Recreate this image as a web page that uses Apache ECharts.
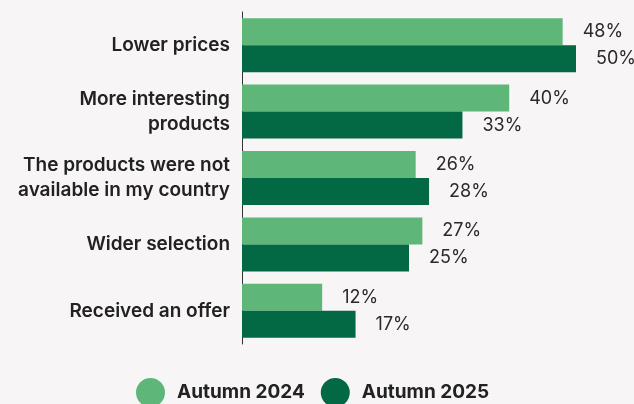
<!DOCTYPE html>
<html><head><meta charset="utf-8">
<script src="https://cdn.jsdelivr.net/npm/echarts@6/dist/echarts.min.js"></script>
<style>html,body{margin:0;padding:0;background:#f7f5f6}#c{width:634px;height:404px}</style>
</head><body><div id="c"></div>
<script>
const categories = ["Lower prices", "More interesting\nproducts", "The products were not\navailable in my country", "Wider selection", "Received an offer"];
const autumn2024 = [48, 40, 26, 27, 12];
const autumn2025 = [50, 33, 28, 25, 17];
const seriesNames = ["Autumn 2024", "Autumn 2025"];

const chart = echarts.init(document.getElementById('c'));
const FONT = 'Inter';
const labelStyle = {show: true, position: 'right', distance: 20, formatter: '{c}%', color: '#2a2a2a', fontSize: 18, fontFamily: FONT};
chart.setOption({
  backgroundColor: '#f7f5f6',
  animation: false,
  grid: {left: 242, top: 12, width: 334, height: 332},
  xAxis: {type: 'value', min: 0, max: 50, show: false},
  yAxis: {type: 'category', data: categories, inverse: true,
    axisLine: {show: true, lineStyle: {color: '#333', width: 1}},
    axisTick: {show: false},
    axisLabel: {margin: 12, color: '#222', fontSize: 19, fontWeight: 600, fontFamily: FONT, lineHeight: 25, align: 'right'}},
  legend: {bottom: -8, left: 131, itemWidth: 29, itemHeight: 29, itemGap: 16, icon: 'circle',
    textStyle: {fontSize: 19, fontWeight: 'bold', color: '#222', fontFamily: FONT, padding: [0, 0, 0, 7]},
    data: seriesNames},
  series: [
    {name: seriesNames[0], type: 'bar', data: autumn2024, barWidth: 27, barGap: '0%', itemStyle: {color: '#5eb779'}, label: labelStyle},
    {name: seriesNames[1], type: 'bar', data: autumn2025, barWidth: 27, barGap: '0%', itemStyle: {color: '#036844'}, label: labelStyle}
  ]
});
</script></body></html>
